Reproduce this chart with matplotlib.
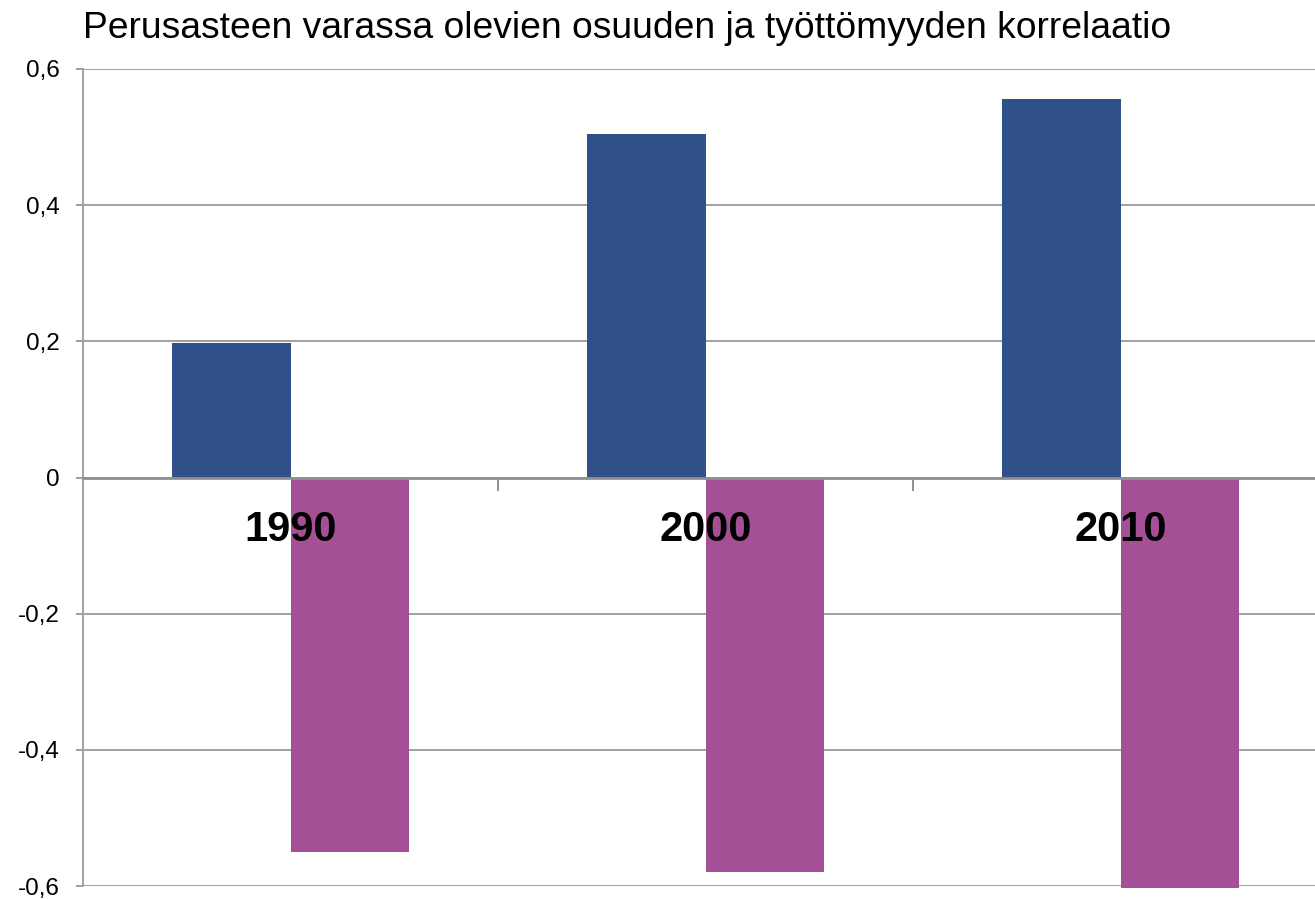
import matplotlib.pyplot as plt
import numpy as np

plt.rcParams['font.family'] = ['Liberation Sans', 'DejaVu Sans']

# data
years = ['1990', '2000', '2010']
blue_vals = [0.197, 0.505, 0.556]
pink_vals = [-0.550, -0.580, -0.603]
yticks = [-0.6, -0.4, -0.2, 0, 0.2, 0.4, 0.6]
ytick_labels = ['-0,6', '-0,4', '-0,2', '0', '0,2', '0,4', '0,6']

fig = plt.figure(figsize=(13.15, 8.99), dpi=100)
ax = fig.add_axes([83 / 1315, 1 - 886 / 899, (1328 - 83) / 1315, (886 - 69) / 899])

x = np.arange(len(years))
w = 0.285
grid_col = '#A0A0A0'
ax.bar(x - w / 2, blue_vals, w, color='#30508A', zorder=3, clip_on=False)
ax.bar(x + w / 2, pink_vals, w, color='#A44F96', zorder=3, clip_on=False)

ax.set_xlim(-0.5, len(years) - 0.5)
ax.set_ylim(-0.6, 0.6)
ax.set_yticks(yticks)
ax.set_yticklabels(ytick_labels, fontsize=17.5)
ax.yaxis.grid(True, color=grid_col, linewidth=1.4, zorder=0)
ax.tick_params(axis='y', length=5, width=1.4, color=grid_col, pad=12)

# x axis sits at zero, ticks on category boundaries
ax.spines['bottom'].set_position(('data', 0))
ax.spines['bottom'].set_color('#909090')
ax.spines['bottom'].set_linewidth(2)
ax.spines['bottom'].set_zorder(4)
ax.set_xticks([0.5, 1.5])
ax.set_xticklabels([])
ax.tick_params(axis='x', length=9, width=1.4, color='#909090', direction='out')
for i, yr in enumerate(years):
    ax.text(i, -0.077, yr, ha='center', va='center', fontsize=30,
            fontweight='bold', zorder=5)

for s in ['top', 'right']:
    ax.spines[s].set_visible(False)
ax.spines['left'].set_color(grid_col)
ax.spines['left'].set_linewidth(1.4)

fig.text(83 / 1315, 1 - 28 / 899, 'Perusasteen varassa olevien osuuden ja työttömyyden korrelaatio',
         ha='left', va='center', fontsize=26.8)

fig.savefig('out.png', dpi=100)
